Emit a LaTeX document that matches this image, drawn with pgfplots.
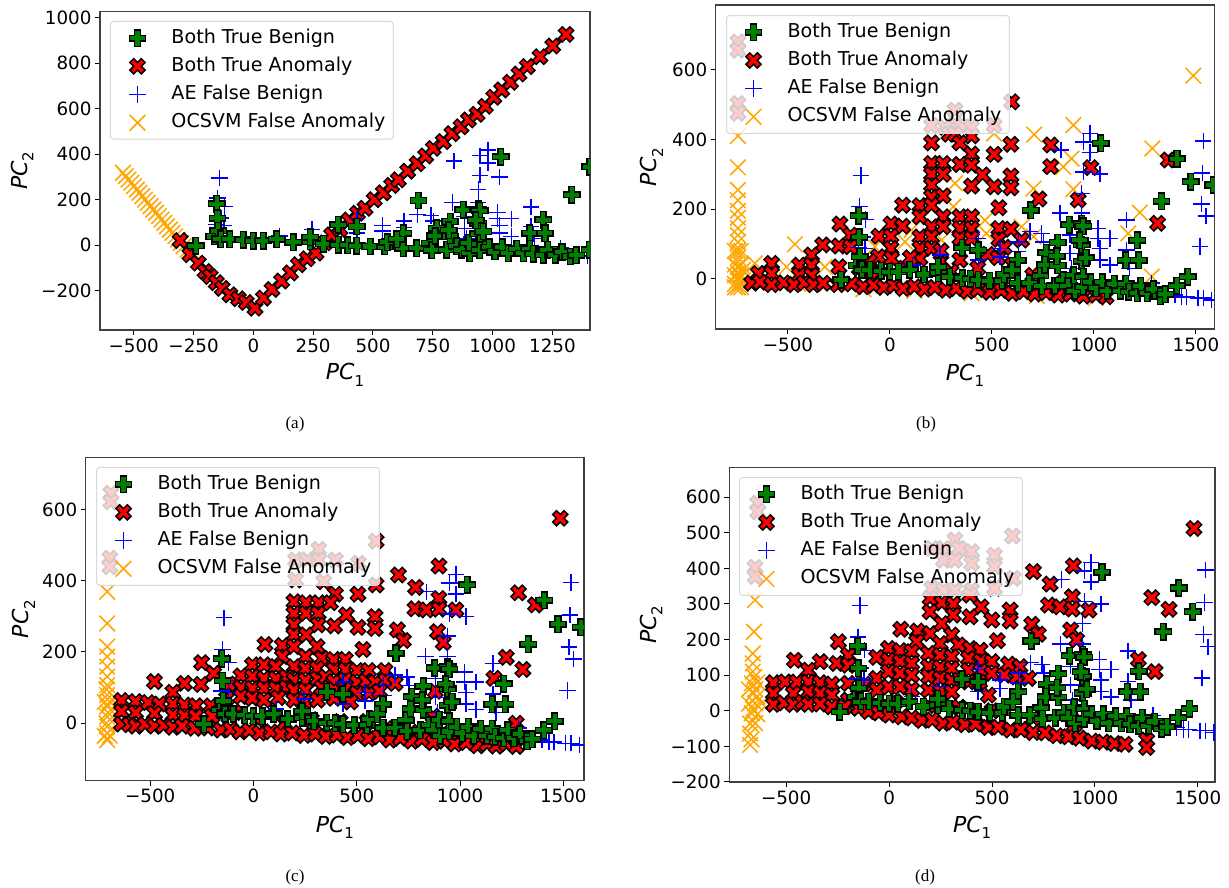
\documentclass[border=0pt]{standalone}
\usepackage{fontspec}
\setmainfont{DejaVu Sans}
\newfontfamily\capfont{Liberation Serif}
\usepackage{pgfplots}
\usepackage{pgfplotstable}
\pgfplotsset{compat=1.18}
\definecolor{mplgreen}{HTML}{008000}
\definecolor{mplorange}{HTML}{FFA500}
\definecolor{mplblue}{HTML}{0000FF}
\definecolor{mplred}{HTML}{FF0000}
\pgfdeclareplotmark{fP}{%
 \pgfpathmoveto{\pgfpoint{-.34\pgfplotmarksize}{\pgfplotmarksize}}%
 \pgfpathlineto{\pgfpoint{.34\pgfplotmarksize}{\pgfplotmarksize}}%
 \pgfpathlineto{\pgfpoint{.34\pgfplotmarksize}{.34\pgfplotmarksize}}%
 \pgfpathlineto{\pgfpoint{\pgfplotmarksize}{.34\pgfplotmarksize}}%
 \pgfpathlineto{\pgfpoint{\pgfplotmarksize}{-.34\pgfplotmarksize}}%
 \pgfpathlineto{\pgfpoint{.34\pgfplotmarksize}{-.34\pgfplotmarksize}}%
 \pgfpathlineto{\pgfpoint{.34\pgfplotmarksize}{-\pgfplotmarksize}}%
 \pgfpathlineto{\pgfpoint{-.34\pgfplotmarksize}{-\pgfplotmarksize}}%
 \pgfpathlineto{\pgfpoint{-.34\pgfplotmarksize}{-.34\pgfplotmarksize}}%
 \pgfpathlineto{\pgfpoint{-\pgfplotmarksize}{-.34\pgfplotmarksize}}%
 \pgfpathlineto{\pgfpoint{-\pgfplotmarksize}{.34\pgfplotmarksize}}%
 \pgfpathlineto{\pgfpoint{-.34\pgfplotmarksize}{.34\pgfplotmarksize}}%
 \pgfpathclose\pgfusepathqfillstroke}
\pgfdeclareplotmark{fX}{%
 \pgfpathmoveto{\pgfpoint{-.5\pgfplotmarksize}{-\pgfplotmarksize}}%
 \pgfpathlineto{\pgfpoint{0pt}{-.5\pgfplotmarksize}}%
 \pgfpathlineto{\pgfpoint{.5\pgfplotmarksize}{-\pgfplotmarksize}}%
 \pgfpathlineto{\pgfpoint{\pgfplotmarksize}{-.5\pgfplotmarksize}}%
 \pgfpathlineto{\pgfpoint{.5\pgfplotmarksize}{0pt}}%
 \pgfpathlineto{\pgfpoint{\pgfplotmarksize}{.5\pgfplotmarksize}}%
 \pgfpathlineto{\pgfpoint{.5\pgfplotmarksize}{\pgfplotmarksize}}%
 \pgfpathlineto{\pgfpoint{0pt}{.5\pgfplotmarksize}}%
 \pgfpathlineto{\pgfpoint{-.5\pgfplotmarksize}{\pgfplotmarksize}}%
 \pgfpathlineto{\pgfpoint{-\pgfplotmarksize}{.5\pgfplotmarksize}}%
 \pgfpathlineto{\pgfpoint{-.5\pgfplotmarksize}{0pt}}%
 \pgfpathlineto{\pgfpoint{-\pgfplotmarksize}{-.5\pgfplotmarksize}}%
 \pgfpathclose\pgfusepathqfillstroke}
\newcommand\PCs[1]{{\itshape PC}\raisebox{-.28em}{\fontsize{15}{15}\selectfont #1}}
\pgfplotsset{
 gS/.style={only marks,mark=fP,mark size=8.2pt,mark options={draw=black,fill=mplgreen,line width=1.5pt,solid}},
 rS/.style={only marks,mark=fX,mark size=7.6pt,mark options={draw=black,fill=mplred,line width=1.5pt,solid}},
 bS/.style={only marks,color=mplblue,mark=+,mark size=8.2pt,mark options={color=mplblue,draw=mplblue,line width=1.5pt}},
 oS/.style={only marks,color=mplorange,mark=x,mark size=11pt,mark options={color=mplorange,draw=mplorange,line width=1.5pt}},
 lg/.style={legend image code/.code={\path[draw=none,fill=none] (0pt,0pt) coordinate (lgA) (38pt,0pt) coordinate (lgB);\draw[mark repeat=2,mark phase=2,##1] plot coordinates {(0pt,0pt)(19pt,0pt)(38pt,0pt)};}},
 panel/.style={anchor=south west,scale only axis,
  axis line style={draw=black!75,line width=1.2pt},
  tick style={draw=black,line width=1pt},tick align=outside,major tick length=5pt,
  xtick pos=bottom,ytick pos=left,clip=true,clip marker paths=true,
  tick label style={font=\fontsize{18.3}{20}\selectfont},
  label style={font=\fontsize{22}{26}\selectfont},
  xlabel={\PCs{1}},ylabel={\PCs{2}},
  legend cell align=left,
  legend image post style={opacity=1},
  legend style={anchor=north west,fill=white,fill opacity=.8,draw=black!15,draw opacity=1,text opacity=1,
   rounded corners=3pt,line width=1pt,font=\fontsize{19.1}{21}\selectfont,row sep=12pt,column sep=15pt,inner xsep=8pt,inner ysep=8.5pt,
   nodes={inner xsep=0pt,inner ysep=0pt,text height=13pt,text depth=3pt}},
 },
}
\newcommand\legs{%
 \addlegendimage{gS,lg}\addlegendentry{Both True Benign}
 \addlegendimage{rS,lg}\addlegendentry{Both True Anomaly}
 \addlegendimage{bS,lg}\addlegendentry{AE False Benign}
 \addlegendimage{oS,lg}\addlegendentry{OCSVM False Anomaly}}
\pgfplotstableread{
x y
-240 -3
-153 181
-150 119
-164 38
-147 63
-139 30
-137 26
-98 26
-42 23
0 20
42 20
98 26
167 12
237 16
237 34
293 6
355 89
355 1
395 0
432 82
432 -3
488 -6
550 -6
560 12
627 53
627 -13
600 25
690 196
683 -13
738 9
745 -22
766 75
760 40
808 -20
822 104
822 38
817 65
850 -5
871 -20
878 155
905 -35
900 10
940 158
940 97
940 50
947 151
947 6
947 -23
961 60
930 110
985 -10
1010 -28
1040 -10
1066 -35
1100 -15
1129 -35
1156 53
1155 -15
1170 -38
1212 111
1219 53
1212 -42
1230 -20
1261 -42
1290 -30
1324 -50
1350 -45
1405 -20
1459 6
1034 389
1331 222
1407 345
1474 278
1585 269
}\greenT
\pgfplotstableread{
x y
-142 296
-150 207
-155 90
-122 87
-135 120
-120 170
245 68
433 116
433 54
539 87
539 63
629 106
629 78
686 135
743 130
752 106
833 188
838 369
882 125
882 73
890 30
880 5
940 245
940 188
948 307
948 393
980 417
980 362
1029 300
1021 144
1021 116
1029 87
1029 54
1078 116
1078 39
1160 168
1160 82
1168 49
1175 30
1283 -13
1290 -30
1397 -47
1430 -52
1454 -52
1511 -56
1536 -56
1577 -61
1536 395
1531 304
1528 214
1549 180
1520 92
110 40
240 30
}\blueT
\pgfplotstableread{
x y
-545 318
-533 303
-522 288
-510 274
-499 259
-487 244
-476 230
-464 215
-453 200
-441 186
-430 171
-418 156
-407 142
-395 127
-384 112
-372 98
-361 83
-349 68
-338 54
-326 39
-315 24
-303 10
-292 -5
-275 -20
}\orangeA
\pgfplotstableread{
x y
-306 20
-265 -42
-230 -79
-202 -116
-180 -138
-155 -165
-130 -190
-98 -218
-62 -236
-30 -252
7 -277
42 -233
78 -195
118 -158
155 -122
188 -86
225 -60
262 -35
300 10
327 45
362 70
400 110
435 140
467 162
505 200
543 230
578 262
606 287
645 325
685 358
720 392
752 425
794 455
830 490
868 520
899 550
935 575
970 610
1005 650
1038 682
1075 716
1110 752
1145 785
1198 828
1251 875
1307 926
}\redA
\pgfplotstableread{
x y
-745 410
-745 320
-745 255
-745 225
-745 195
-745 175
-745 145
-745 125
-745 105
-745 80
-745 60
-745 35
-745 15
-745 -5
-745 -25
-760 -15
-730 -15
-760 10
-730 10
-730 40
-760 40
-730 80
-760 80
-760 -25
-730 -25
-720 -5
-720 25
1487 583
707 414
899 441
1286 374
510 417
890 345
850 321
704 259
899 257
1225 190
1168 130
1283 6
319 274
311 207
466 168
-466 99
-662 44
-507 34
-319 34
74 106
-74 92
106 140
253 111
473 130
645 149
704 121
-450 -15
-130 -30
120 -35
400 -42
720 -50
1010 -55
}\orangeB
\pgfplotstableread{
x y
-745 680
-745 656
-745 503
-745 475
596 508
319 484
319 445
270 435
355 435
400 435
204 440
511 440
290 415
319 415
400 410
204 390
343 390
593 386
400 358
511 357
788 384
788 322
985 319
1364 341
204 331
261 331
343 328
400 326
204 300
261 300
454 298
593 295
593 261
511 264
400 266
204 269
204 235
261 238
730 229
923 226
62 211
147 210
204 211
534 204
147 178
261 178
343 178
400 178
1312 159
-245 157
5 157
62 151
204 149
261 149
343 144
400 144
534 144
593 142
-193 125
-54 122
5 122
147 120
204 120
343 116
400 116
534 113
645 111
-330 97
-250 94
-193 92
5 87
147 87
204 87
-384 68
-57 63
8 58
147 58
343 54
-580 44
-444 39
-384 39
-250 34
-645 15
-580 15
-444 10
-384 10
-678 -13
-637 -10
-580 -17
-520 -12
-470 -17
-420 -12
-375 -17
-327 -13
-255 -17
-188 -15
-131 -23
-80 -19
-30 -25
20 -20
65 -28
120 -23
170 -30
220 -25
275 -33
325 -28
380 -36
430 -31
490 -39
545 -34
600 -42
655 -37
710 -44
765 -40
825 -47
885 -44
948 -50
1010 -47
1060 -52
-150 30
-100 50
-60 20
70 30
100 60
250 50
250 80
300 20
430 30
480 70
530 60
560 90
600 40
700 10
850 -10
}\redB
\pgfplotstableread{
x y
-708 369
-708 280
-708 215
-708 187
-708 159
-708 131
-708 107
-708 79
-708 47
-708 19
-708 -9
-708 -28
-708 -47
-720 -35
-695 -35
-695 60
-720 60
-712 0
-704 30
-712 95
}\orangeC
\pgfplotstableread{
x y
-690 645
-690 621
-695 463
-695 439
594 511
316 488
204 458
260 458
316 458
397 458
509 449
204 402
340 397
594 388
1485 575
702 416
898 441
785 381
397 362
506 362
898 350
1283 366
1365 332
980 318
196 341
255 338
316 338
373 338
196 308
255 308
313 308
450 304
589 299
782 321
838 318
898 320
196 276
313 276
392 273
506 269
589 266
697 262
196 248
255 248
891 257
726 232
919 226
56 221
140 218
196 215
308 215
530 207
140 187
252 187
332 182
389 179
445 179
1224 185
-251 170
-5 164
51 164
108 159
196 159
252 154
308 154
389 150
445 150
501 148
557 148
637 148
1304 151
-479 117
-193 140
-334 112
-254 109
-61 133
-5 131
51 126
108 126
160 130
196 121
252 121
310 125
350 130
389 117
445 122
501 115
545 118
589 115
640 120
686 112
1164 126
-120 110
-60 100
-5 98
51 98
108 98
160 100
196 93
252 93
330 100
390 95
440 95
501 84
560 85
610 90
-390 87
-639 64
-570 61
-510 58
-455 54
-390 54
-334 51
-278 49
-206 49
-130 70
-61 75
-5 70
51 65
120 72
196 65
250 62
310 65
390 70
470 60
-639 33
-570 30
-479 28
-390 23
-334 21
-280 20
-200 20
-90 30
20 10
150 0
280 10
420 5
550 5
680 -15
800 -25
950 -30
1100 -35
-639 -2
-600 -4
-570 -8
-525 -3
-479 -8
-435 -6
-390 -11
-345 -8
-285 -14
-220 -13
-157 -19
-110 -17
-65 -24
-20 -20
30 -27
85 -24
132 -30
188 -27
245 -34
300 -30
350 -37
405 -33
455 -40
505 -35
557 -43
610 -38
660 -47
710 -42
766 -50
815 -45
870 -54
925 -50
975 -58
1030 -54
1085 -63
1130 -58
1175 -64
1225 -58
1272 -65
1272 0
880 90
870 20
}\redC
\pgfplotstableread{
x y
-651 311
-656 222
-662 161
-662 133
-662 110
-667 77
-659 49
-651 21
-618 21
-667 -7
-675 -36
-675 -64
-675 -96
-640 80
-640 40
-640 -10
-650 -35
-680 20
-680 60
-668 -80
-655 95
-650 60
-660 5
}\orangeD
\pgfplotstableread{
x y
-638 583
-638 559
-651 403
-651 377
599 491
320 480
207 456
264 456
340 456
401 447
512 437
264 423
320 423
401 414
512 405
604 372
207 344
264 339
320 339
401 339
512 344
1481 512
701 391
895 407
782 356
890 320
1276 318
774 297
830 292
890 286
971 283
1360 285
199 316
256 303
312 300
393 325
447 292
588 283
199 278
312 269
393 264
499 255
588 252
693 243
882 227
725 215
911 199
57 229
138 224
199 217
256 245
304 213
134 194
248 189
337 185
393 175
442 170
526 197
-246 194
-3 175
53 169
110 166
191 161
248 156
304 152
385 147
445 140
499 138
580 131
636 124
1211 144
1292 110
-460 142
-335 138
-254 133
-198 156
-198 128
-60 150
-3 142
53 138
110 133
191 124
248 122
304 119
385 114
445 112
499 105
560 100
620 95
677 91
-392 114
-60 91
-3 110
53 105
110 100
191 96
248 91
304 86
385 81
440 80
482 44
-562 79
-505 81
-448 81
-392 81
-335 79
-278 75
-198 77
-120 75
-60 58
-3 67
53 67
110 60
191 58
250 55
304 53
-562 49
-465 49
-392 53
-335 49
-278 44
-198 30
30 25
190 15
340 10
500 0
700 -20
900 -40
-562 18
-510 22
-465 18
-420 24
-392 18
-335 19
-278 11
-215 12
-149 7
-100 -2
-50 -6
0 -12
62 -17
110 -20
160 -27
210 -26
262 -35
310 -32
369 -39
420 -37
482 -47
530 -46
590 -54
640 -53
700 -61
758 -62
814 -70
871 -73
925 -77
985 -85
1040 -88
1095 -92
1146 -94
1251 -82
1251 -103
}\redD
\begin{document}
\begin{tikzpicture}[x=1pt,y=1pt]
\path[use as bounding box] (0,0) rectangle (1229,888);
% (a)
\begin{axis}[panel,at={(100pt,558pt)},width=490pt,height=318.3pt,
 xmin=-641,xmax=1407,ymin=-373,ymax=1026,
 xtick={-500,-250,0,250,500,750,1000,1250},xticklabels={−500,−250,0,250,500,750,1000,1250},
 ytick={-200,0,200,400,600,800,1000},yticklabels={−200,0,200,400,600,800,1000},
 xlabel style={at={(axis description cs:.5,-.141)},anchor=center},
 ylabel style={at={(axis description cs:-.159,.5)},anchor=center},
 legend style={at={(axis description cs:.0204,.971)}}]
\legs
\addplot[oS,forget plot] table {\orangeA};
\addplot[rS,forget plot] table {\redA};
\addplot[bS,forget plot] table {\blueT};
\addplot[gS,forget plot] table {\greenT};
\end{axis}
% (b)
\begin{axis}[panel,at={(715.7pt,559pt)},width=498.6pt,height=324pt,
 xmin=-854,xmax=1590,ymin=-144.4,ymax=786,
 xtick={-500,0,500,1000,1500},xticklabels={−500,0,500,1000,1500},
 ytick={0,200,400,600},yticklabels={0,200,400,600},
 xlabel style={at={(axis description cs:.5,-.142)},anchor=center},
 ylabel style={at={(axis description cs:-.128,.5)},anchor=center},
 legend style={at={(axis description cs:.0207,.969)}}]
\legs
\addplot[oS,forget plot] table {\orangeB};
\addplot[rS,forget plot] table {\redB};
\addplot[bS,forget plot] table {\blueT};
\addplot[gS,forget plot] table {\greenT};
\end{axis}
% (c)
\begin{axis}[panel,at={(85.7pt,107.3pt)},width=498.3pt,height=323.4pt,
 xmin=-812,xmax=1600,ymin=-161,ymax=746,
 xtick={-500,0,500,1000,1500},xticklabels={−500,0,500,1000,1500},
 ytick={0,200,400,600},yticklabels={0,200,400,600},
 xlabel style={at={(axis description cs:.5,-.143)},anchor=center},
 ylabel style={at={(axis description cs:-.124,.5)},anchor=center},
 legend style={at={(axis description cs:.0207,.97)}}]
\legs
\addplot[oS,forget plot] table {\orangeC};
\addplot[rS,forget plot] table {\redC};
\addplot[bS,forget plot] table {\blueT};
\addplot[gS,forget plot] table {\greenT};
\end{axis}
% (d)
\begin{axis}[panel,at={(729.3pt,106pt)},width=485.7pt,height=314.7pt,
 xmin=-776,xmax=1583,ymin=-200,ymax=684,
 xtick={-500,0,500,1000,1500},xticklabels={−500,0,500,1000,1500},
 ytick={-200,-100,0,100,200,300,400,500,600},yticklabels={−200,−100,0,100,200,300,400,500,600},
 xlabel style={at={(axis description cs:.5,-.143)},anchor=center},
 ylabel style={at={(axis description cs:-.161,.5)},anchor=center},
 legend style={at={(axis description cs:.02,.969)}}]
\legs
\addplot[oS,forget plot] table {\orangeD};
\addplot[rS,forget plot] table {\redD};
\addplot[bS,forget plot] table {\blueT};
\addplot[gS,forget plot] table {\greenT};
\end{axis}
\node[font=\capfont\fontsize{17}{20}\selectfont] at (295,464) {(a)};
\node[font=\capfont\fontsize{17}{20}\selectfont] at (926,464) {(b)};
\node[font=\capfont\fontsize{17}{20}\selectfont] at (295,11) {(c)};
\node[font=\capfont\fontsize{17}{20}\selectfont] at (925,11) {(d)};
\end{tikzpicture}
\end{document}
